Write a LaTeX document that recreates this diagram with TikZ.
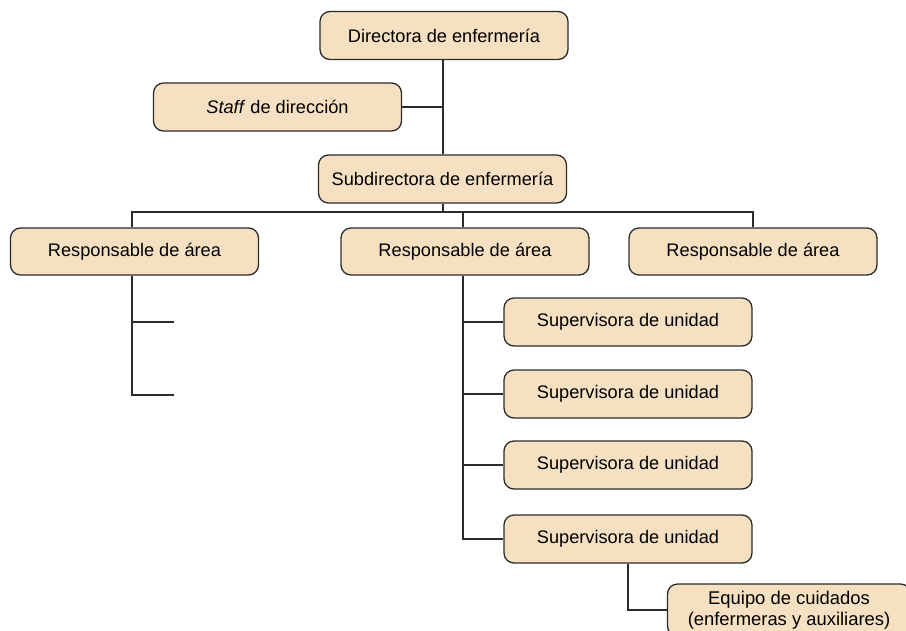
\documentclass[tikz,border=0pt]{standalone}
\usepackage{fontspec}
\setmainfont{Liberation Sans}
\definecolor{boxfill}{HTML}{F5E1C1}
\definecolor{edge}{HTML}{2B2B2B}
\begin{document}
\begin{tikzpicture}[x=1pt,y=-1pt,
  box/.style={draw=edge, line width=1.3pt, fill=boxfill, rounded corners=10pt,
    minimum height=48pt, minimum width=248pt, inner sep=0pt,
    font=\fontsize{18.2}{22}\selectfont},
  conn/.style={draw=edge, line width=1.4pt}]
\useasboundingbox (0,0) rectangle (906,630);
\clip (0,0) rectangle (906,630);
\node[box] (dir) at (444,35.5) {Directora de enfermería};
\node[box] (staff) at (277.5,107) {\textit{Staff} de dirección};
\node[box] (sub) at (442.5,179) {Subdirectora de enfermería};
\node[box, minimum height=47pt] (r1) at (134.5,251.5) {Responsable de área};
\node[box, minimum height=47pt] (r2) at (465,251.5) {Responsable de área};
\node[box, minimum height=47pt] (r3) at (753,251.5) {Responsable de área};
\node[box] (u1) at (628,322) {Supervisora de unidad};
\node[box] (u2) at (628,394) {Supervisora de unidad};
\node[box] (u3) at (628,465) {Supervisora de unidad};
\node[box] (u4) at (628,539) {Supervisora de unidad};
\node[box, minimum width=243pt, minimum height=52pt, align=center,
  font=\fontsize{18.4}{22}\selectfont] (eq) at (789,610)
  {Equipo de cuidados\\[-1pt](enfermeras y auxiliares)};
\coordinate (h) at (443,212);
\coordinate (s1) at (174,322);
\coordinate (s2) at (174,395);
\draw[conn] (dir.south -| h) -- (sub.north -| h);
\draw[conn] (staff.east) -- (staff.east -| h);
\draw[conn] (sub.south -| h) -- (h);
\draw[conn] (r1.north -| 132,0) -- (132,212) -- (753,212) -- (r3.north);
\draw[conn] (463,212) -- (r2.north -| 463,0);
\draw[conn] (r1.south -| 132,0) -- (132,395) -- (s2);
\draw[conn] (132,322) -- (s1);
\draw[conn] (r2.south -| 463,0) -- (463,539) -- (u4.west);
\draw[conn] (463,322) -- (u1.west);
\draw[conn] (463,394) -- (u2.west);
\draw[conn] (463,465) -- (u3.west);
\draw[conn] (u4.south) -- (u4.south |- eq.west) -- (eq.west);
\end{tikzpicture}
\end{document}
